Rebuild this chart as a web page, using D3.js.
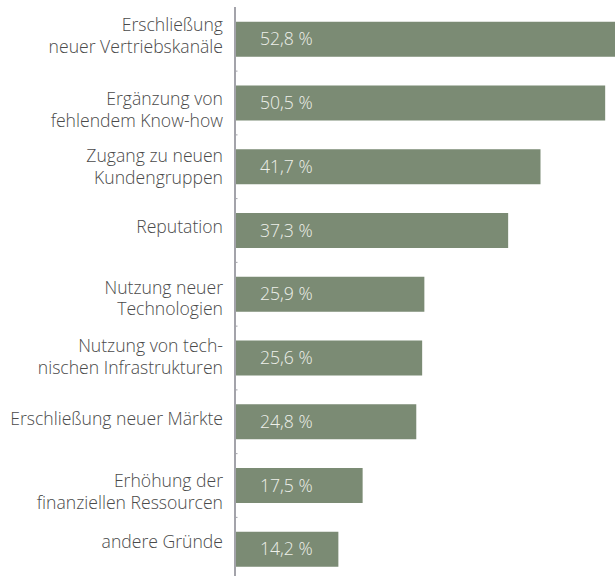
<!DOCTYPE html>
<html><head><meta charset="utf-8">
<script src="https://cdn.jsdelivr.net/npm/d3@7"></script>
<style>body{margin:0;background:#fff}svg{display:block}</style>
</head><body>
<script>
const categories = [
  ["Erschließung", "neuer Vertriebskanäle"],
  ["Ergänzung von", "fehlendem Know-how"],
  ["Zugang zu neuen", "Kundengruppen"],
  ["Reputation"],
  ["Nutzung neuer", "Technologien"],
  ["Nutzung von tech-", "nischen Infrastrukturen"],
  ["Erschließung neuer Märkte"],
  ["Erhöhung der", "finanziellen Ressourcen"],
  ["andere Gründe"]
];
const values = [52.8, 50.5, 41.7, 37.3, 25.9, 25.6, 24.8, 17.5, 14.2];
const valueLabels = ["52,8 %", "50,5 %", "41,7 %", "37,3 %", "25,9 %", "25,6 %", "24,8 %", "17,5 %", "14,2 %"];

// layout: small vertical nudges of the category labels (as in the original)
const labelNudge = [-3.2, 6.6, 0, -3.4, 4, -1.4, -2.9, 6.5, -7.7];

const W = 615, H = 576;
const svg = d3.select("body").append("svg").attr("width", W).attr("height", H);
const font = "'Open Sans', sans-serif";
const fs = 17.6;

const x = d3.scaleLinear().domain([0, 10]).range([234, 307.5]);
const y = d3.scaleBand().domain(d3.range(values.length)).range([9, 579.5]).paddingInner(0.451).paddingOuter(0.2);

svg.append("g").selectAll("rect").data(values).join("rect")
  .attr("x", x(0)).attr("y", (d, i) => y(i))
  .attr("width", d => x(d) - x(0)).attr("height", y.bandwidth())
  .attr("fill", "#7b8b74");

svg.append("g").selectAll("text").data(valueLabels).join("text")
  .attr("x", 260).attr("y", (d, i) => y(i) + y.bandwidth() / 2)
  .attr("dy", "0.35em")
  .attr("font-family", font).attr("font-weight", 300).attr("font-size", fs)
  .attr("fill", "#eef0ea").text(d => d);

const lab = svg.append("g").selectAll("text").data(categories).join("text")
  .attr("text-anchor", "end")
  .attr("font-family", font).attr("font-weight", 300).attr("font-size", fs)
  .attr("fill", "#4a4a4a");
lab.each(function (lines, i) {
  const c = y(i) + y.bandwidth() / 2 + labelNudge[i];
  const lh = 21.7;
  const y0 = c - (lines.length - 1) * lh / 2;
  d3.select(this).selectAll("tspan").data(lines).join("tspan")
    .attr("x", 223).attr("y", (d, j) => y0 + j * lh).attr("dy", "0.35em").text(d => d);
});

// axis line
svg.append("line").attr("x1", 235).attr("x2", 235).attr("y1", 7).attr("y2", H)
  .attr("stroke", "#a3a3aa").attr("stroke-width", 2);
// small ticks between bands
const step = y.step();
svg.append("g").selectAll("line").data(d3.range(1, values.length)).join("line")
  .attr("x1", 236).attr("x2", 237.5)
  .attr("y1", i => y(i) - (step - y.bandwidth()) / 2).attr("y2", i => y(i) - (step - y.bandwidth()) / 2)
  .attr("stroke", "#a3a3aa").attr("stroke-width", 1);
</script>
</body></html>
